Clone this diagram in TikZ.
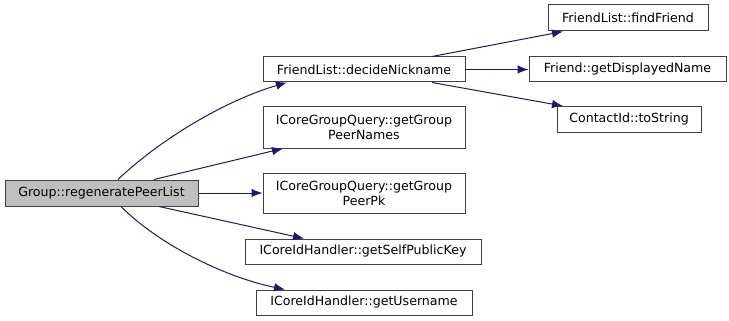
\documentclass[tikz,border=0pt]{standalone}
\usepackage{fontspec}
\setmainfont{DejaVu Sans}
\usetikzlibrary{arrows.meta}
\definecolor{edgeblue}{HTML}{191970}
\definecolor{rootfill}{HTML}{BFBFBF}
\definecolor{boxline}{HTML}{404040}
\tikzset{
  fn/.style={draw=boxline, line width=1pt, fill=white, inner sep=0pt,
    align=center, font=\fontsize{12.6}{15}\selectfont, text=black},
  root/.style={fn, fill=rootfill},
  call/.style={draw=edgeblue, line width=1pt,
    -{Latex[length=11pt,width=8.5pt]}, fill=none},
}
\begin{document}
\begin{tikzpicture}[x=1pt, y=-1pt]
\useasboundingbox (0,0) rectangle (729,321);

% caller
\node[root, minimum width=193pt, minimum height=26pt] (grp) at (101.5,193) {Group::regeneratePeerList};

% direct callees
\node[fn, minimum width=202pt, minimum height=25pt] (nick) at (364,69.5) {FriendList::decideNickname};
\node[fn, minimum width=202pt, minimum height=41pt] (names) at (364,127.5) {ICoreGroupQuery::getGroup\\PeerNames};
\node[fn, minimum width=202pt, minimum height=40pt] (pk) at (364,193) {ICoreGroupQuery::getGroup\\PeerPk};
\node[fn, minimum width=236pt, minimum height=25pt] (selfkey) at (363,251.5) {ICoreIdHandler::getSelfPublicKey};
\node[fn, minimum width=216pt, minimum height=25pt] (user) at (364,302.5) {ICoreIdHandler::getUsername};

% callees of decideNickname
\node[fn, minimum width=160pt, minimum height=26pt] (find) at (628,18) {FriendList::findFriend};
\node[fn, minimum width=197pt, minimum height=25pt] (disp) at (627.5,69.5) {Friend::getDisplayedName};
\node[fn, minimum width=144pt, minimum height=26pt] (cid) at (629,119.5) {ContactId::toString};

% call edges
\draw[call] ([xshift=16.5pt]grp.north) .. controls +(42,-40) and +(-62,18) .. ([xshift=-77pt]nick.south);
\draw[call] ([xshift=52.5pt]grp.north) -- ([xshift=-81pt]names.south);
\draw[call] (grp.east) -- (pk.west);
\draw[call] ([xshift=57.5pt]grp.south) -- ([xshift=-59pt]selfkey.north);
\draw[call] ([xshift=19.5pt]grp.south) .. controls +(40,40) and +(-58,-12) .. ([xshift=-79pt]user.north);

\draw[call] ([xshift=68pt]nick.north) -- ([xshift=-65pt]find.south);
\draw[call] (nick.east) -- (disp.west);
\draw[call] ([xshift=68pt]nick.south) -- ([xshift=-66pt]cid.north);
\end{tikzpicture}
\end{document}
